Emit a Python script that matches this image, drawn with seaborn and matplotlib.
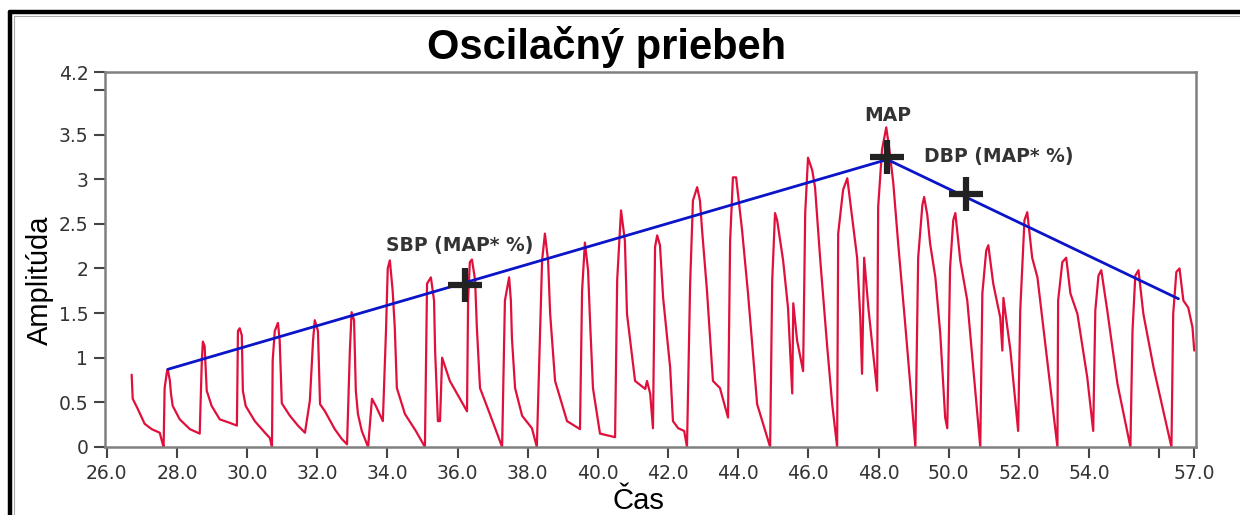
import matplotlib
matplotlib.use("Agg")
import matplotlib.pyplot as plt
import seaborn as sns
import pandas as pd
from matplotlib.lines import Line2D

# oscilometric waveform (time, amplitude)
cas = [
    26.71, 26.74, 26.88, 27.08, 27.28, 27.51, 27.57, 27.62,
    27.65, 27.71, 27.74, 27.80, 27.83, 27.88, 28.08, 28.37, 28.65,
    28.71, 28.74, 28.79, 28.85, 28.99, 29.22, 29.51, 29.71,
    29.74, 29.79, 29.85, 29.88, 29.96, 30.22, 30.51, 30.65, 30.71,
    30.73, 30.79, 30.88, 30.93, 30.99, 31.22, 31.45, 31.65,
    31.79, 31.88, 31.93, 32.02, 32.08, 32.22, 32.50, 32.70, 32.85,
    32.93, 32.98, 33.05, 33.10, 33.16, 33.27, 33.45,
    33.56, 33.67, 33.87,
    33.96, 34.01, 34.07, 34.15, 34.21, 34.27, 34.50, 34.81, 35.07,
    35.13, 35.24, 35.33, 35.36, 35.44, 35.50, 35.56, 35.78, 36.27,
    36.30, 36.35, 36.41, 36.50, 36.55, 36.64, 36.92, 37.27,
    37.35, 37.47, 37.52, 37.55, 37.64, 37.84, 38.12, 38.26,
    38.41, 38.49, 38.58, 38.64, 38.78, 39.12, 39.49,
    39.55, 39.63, 39.72, 39.78, 39.86, 40.06, 40.49,
    40.55, 40.66, 40.77, 40.83, 41.06, 41.35, 41.40, 41.49, 41.57,
    41.63, 41.69, 41.77, 41.86, 42.06, 42.14, 42.29, 42.46, 42.54,
    42.63, 42.71, 42.83, 42.91, 42.97, 43.11, 43.28, 43.48, 43.71,
    43.77, 43.85, 43.94, 44.11, 44.28, 44.54, 44.91,
    44.97, 45.05, 45.11, 45.28, 45.42, 45.54, 45.57, 45.68, 45.85,
    45.91, 45.99, 46.11, 46.19, 46.34, 46.54, 46.68, 46.82,
    46.85, 46.99, 47.11, 47.25, 47.39, 47.48, 47.53, 47.59, 47.71, 47.96,
    47.99, 48.10, 48.22, 48.31, 48.42, 48.56, 48.76, 48.96, 49.05,
    49.13, 49.25, 49.30, 49.39, 49.47, 49.62, 49.76, 49.90, 49.96,
    50.04, 50.13, 50.19, 50.33, 50.53, 50.70, 50.90,
    50.96, 51.07, 51.13, 51.27, 51.47, 51.53, 51.56, 51.76, 51.98,
    52.04, 52.16, 52.24, 52.38, 52.53, 52.81, 53.10,
    53.12, 53.24, 53.35, 53.47, 53.67, 53.95, 54.12,
    54.18, 54.27, 54.35, 54.52, 54.81, 55.18,
    55.24, 55.32, 55.41, 55.55, 55.84, 56.12, 56.35,
    56.40, 56.49, 56.58, 56.69, 56.83, 56.95, 57.00,
]
amplituda = [
    0.81, 0.54, 0.43, 0.26, 0.20, 0.16, 0.07, 0.00,
    0.66, 0.83, 0.87, 0.74, 0.60, 0.46, 0.31, 0.20, 0.15,
    0.97, 1.18, 1.13, 0.63, 0.46, 0.31, 0.27, 0.24,
    1.30, 1.33, 1.25, 0.63, 0.46, 0.29, 0.16, 0.10, 0.00,
    0.97, 1.30, 1.39, 1.19, 0.49, 0.35, 0.24, 0.16,
    0.52, 1.19, 1.42, 1.30, 0.48, 0.40, 0.20, 0.09, 0.03,
    1.08, 1.51, 1.42, 0.63, 0.37, 0.18, 0.00,
    0.54, 0.46, 0.29,
    1.30, 2.00, 2.09, 1.75, 1.34, 0.66, 0.37, 0.18, 0.00,
    1.83, 1.90, 1.64, 1.08, 0.29, 0.29, 1.00, 0.74, 0.40,
    1.64, 2.07, 2.10, 1.87, 1.34, 0.66, 0.37, 0.00,
    1.64, 1.90, 1.64, 1.22, 0.66, 0.35, 0.21, 0.00,
    2.09, 2.39, 2.09, 1.49, 0.74, 0.29, 0.20,
    1.75, 2.29, 1.98, 1.38, 0.66, 0.15, 0.11,
    1.87, 2.65, 2.31, 1.49, 0.74, 0.65, 0.74, 0.60, 0.21,
    2.24, 2.37, 2.26, 1.67, 0.89, 0.29, 0.21, 0.18, 0.00,
    1.83, 2.76, 2.91, 2.76, 2.43, 1.75, 0.74, 0.66, 0.33,
    2.31, 3.02, 3.02, 2.43, 1.72, 0.48, 0.00,
    1.87, 2.62, 2.54, 2.09, 1.56, 0.60, 1.61, 1.19, 0.85,
    2.62, 3.24, 3.10, 2.91, 2.09, 1.11, 0.48, 0.00,
    2.39, 2.88, 3.01, 2.57, 2.12, 1.45, 0.82, 2.12, 1.56, 0.63,
    2.69, 3.33, 3.58, 3.33, 2.96, 2.28, 1.38, 0.44, 0.00,
    2.12, 2.71, 2.80, 2.60, 2.28, 1.90, 1.27, 0.33, 0.21,
    2.01, 2.54, 2.62, 2.09, 1.64, 0.89, 0.00,
    1.72, 2.20, 2.26, 1.83, 1.45, 1.08, 1.67, 1.08, 0.18,
    1.53, 2.54, 2.63, 2.12, 1.90, 0.97, 0.00,
    1.64, 2.07, 2.12, 1.72, 1.49, 0.78, 0.18,
    1.53, 1.92, 1.98, 1.53, 0.71, 0.00,
    1.30, 1.92, 1.98, 1.49, 0.89, 0.40, 0.00,
    1.49, 1.96, 2.00, 1.64, 1.56, 1.34, 1.08,
]

# envelope through SBP side -> MAP -> DBP side
obalka_t = [27.74, 48.25, 56.55]
obalka_a = [0.87, 3.22, 1.66]

# characteristic points
body_nazov = ["SBP (MAP* %)", "MAP", "DBP (MAP* %)"]
body_t = [36.21, 48.25, 50.50]
body_a = [1.82, 3.25, 2.83]
popis_t = [36.07, 48.25, 51.44]
popis_a = [2.26, 3.71, 3.25]

x_ticks = [26, 28, 30, 32, 34, 36, 38, 40, 42, 44, 46, 48, 50, 52, 54, 56, 57]
x_labels = ["26.0", "28.0", "30.0", "32.0", "34.0", "36.0", "38.0", "40.0", "42.0",
            "44.0", "46.0", "48.0", "50.0", "52.0", "54.0", "", "57.0"]
y_ticks = [0, 0.5, 1, 1.5, 2, 2.5, 3, 3.5, 4.0, 4.2]
y_labels = ["0", "0.5", "1", "1.5", "2", "2.5", "3", "3.5", "", "4.2"]

df = pd.DataFrame({"Čas": cas, "Amplitúda": amplituda})
env = pd.DataFrame({"Čas": obalka_t, "Amplitúda": obalka_a})

sns.set_theme(style="white")
plt.rcParams["font.family"] = ["Liberation Sans", "DejaVu Sans"]

fig = plt.figure(figsize=(12.4, 5.15), dpi=100)
ax = fig.add_axes([105 / 1240, 1 - 447 / 515, (1196 - 105) / 1240, (447 - 72) / 515])

sns.lineplot(data=df, x="Čas", y="Amplitúda", ax=ax, color="#e0103c",
             linewidth=1.6, estimator=None, sort=False)
sns.lineplot(data=env, x="Čas", y="Amplitúda", ax=ax, color="#0a14c8",
             linewidth=2.0, estimator=None, sort=False)
ax.plot(body_t, body_a, linestyle="none", marker="+", markersize=24,
        markeredgewidth=4.5, color="#222222", zorder=5)
for txt, tx, ty in zip(body_nazov, popis_t, popis_a):
    ax.text(tx, ty, txt, ha="center", va="center", fontsize=13.5,
            fontweight="bold", color="#333333", family="DejaVu Sans")

ax.set_xlim(25.95, 57.05)
ax.set_ylim(0, 4.2)
ax.set_xticks(x_ticks)
ax.set_xticklabels(x_labels)
ax.set_yticks(y_ticks)
ax.set_yticklabels(y_labels)
ax.set_xlabel("")
ax.set_ylabel("")
ax.tick_params(axis="both", direction="out", length=8, width=1.5, color="#444444",
               labelsize=13.5, labelcolor="#333333", pad=4, left=True, bottom=True)
for lab in ax.get_xticklabels() + ax.get_yticklabels():
    lab.set_family("DejaVu Sans")
for sp in ax.spines.values():
    sp.set_color("#808080")
    sp.set_linewidth(1.8)

fig.text(607 / 1240, 1 - 47 / 515, "Oscilačný priebeh", ha="center", va="center",
         fontsize=30, fontweight="bold", color="black")
fig.text(40 / 1240, 1 - 280 / 515, "Amplitúda", ha="center", va="center",
         rotation=90, fontsize=21, color="black")
fig.text(638 / 1240, 1 - 501 / 515, "Čas", ha="center", va="center",
         fontsize=21, color="black")

# screenshot frame (black + grey inner line)
fig.add_artist(Line2D([10 / 1240, 1], [1 - 12 / 515, 1 - 12 / 515], color="black", linewidth=3.2))
fig.add_artist(Line2D([10 / 1240, 10 / 1240], [0, 1 - 12 / 515], color="black", linewidth=3.2))
fig.add_artist(Line2D([14 / 1240, 1], [1 - 16 / 515, 1 - 16 / 515], color="#aaaaaa", linewidth=0.8))
fig.add_artist(Line2D([14 / 1240, 14 / 1240], [0, 1 - 16 / 515], color="#aaaaaa", linewidth=0.8))

fig.savefig("out.png", dpi=100)
